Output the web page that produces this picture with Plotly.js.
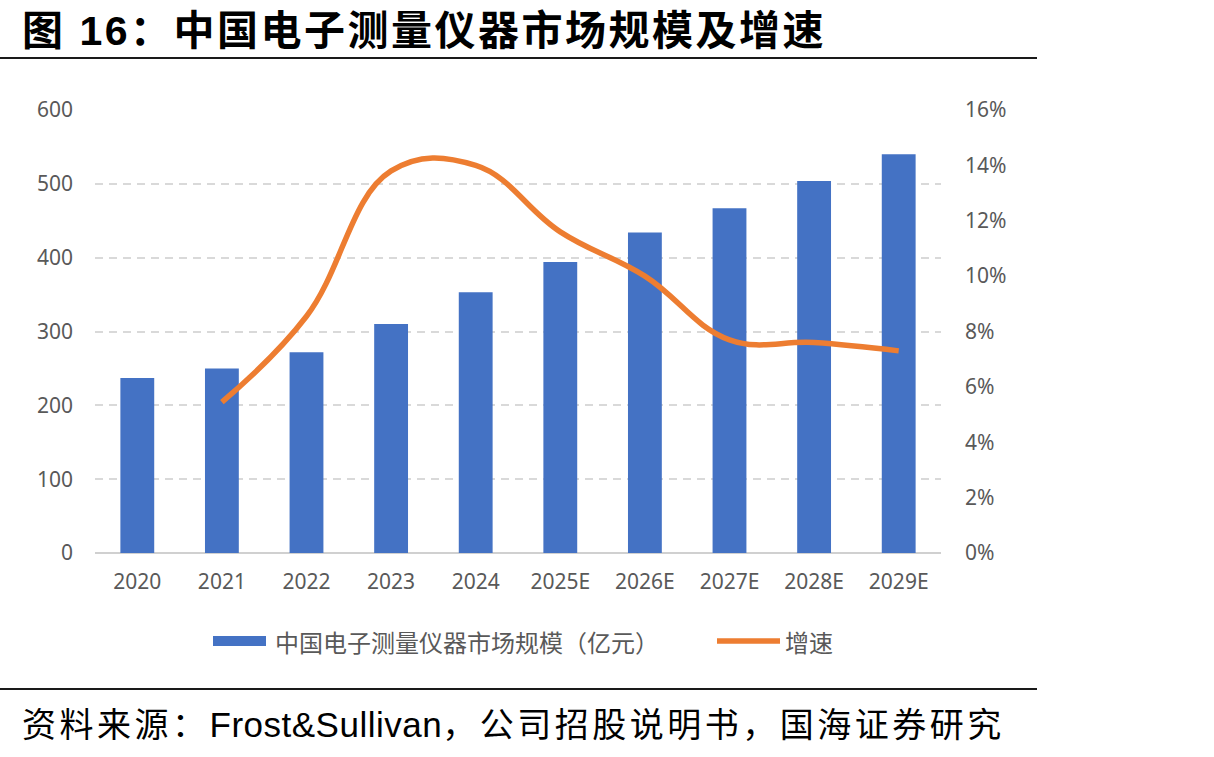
<!DOCTYPE html>
<html>
<head>
<meta charset="utf-8">
<script src="https://cdn.plot.ly/plotly-3.0.1.min.js"></script>
<style>
  html, body { margin: 0; padding: 0; background: #ffffff; }
  #wrap { position: relative; width: 1214px; height: 757px; overflow: hidden; }
  #chart { position: absolute; left: 0; top: 0; width: 1214px; height: 757px; }
  .rule { position: absolute; left: 0; width: 1037px; height: 2px; background: #1a1a1a; }
  #title { position: absolute; left: 22px; top: -3px; font-family: "Liberation Sans", "Noto Sans CJK SC", sans-serif;
           font-weight: 700; font-size: 41px; color: #000; white-space: nowrap; letter-spacing: 2.5px; }
  #source { position: absolute; left: 22px; top: 698px; font-family: "Noto Sans CJK SC", sans-serif;
            font-size: 34px; color: #000; white-space: nowrap; letter-spacing: 3.5px; }
  #source .lat { font-family: "Liberation Sans", sans-serif; font-size: 35px; letter-spacing: 0.5px; }
</style>
</head>
<body>
<div id="wrap">
  <div id="chart"></div>
  <div id="title">图 16：中国电子测量仪器市场规模及增速</div>
  <div class="rule" style="top:57px"></div>
  <div class="rule" style="top:688px"></div>
  <div id="source">资料来源：<span class="lat">Frost&amp;Sullivan</span>，公司招股说明书，国海证券研究</div>
</div>
<script>
// Market size (100 million yuan) and year-on-year growth (%)
const years = ['2020', '2021', '2022', '2023', '2024', '2025E', '2026E', '2027E', '2028E', '2029E'];
const marketSize = [237, 250, 272, 310, 353, 394, 434, 467, 504, 540];
const growthPct = [null, 5.45, 8.55, 13.8, 14.0, 11.6, 10.0, 7.7, 7.6, 7.3];

const sizeName = '中国电子测量仪器市场规模（亿元）';
const growthName = '增速';

const BLUE = '#4472C4';
const ORANGE = '#ED7D31';
const GREY_TEXT = '#595959';

const tickFont = { family: 'Noto Sans, sans-serif', size: 21, color: GREY_TEXT };
const legendFont = { family: 'Noto Sans CJK SC, sans-serif', size: 24, color: GREY_TEXT };

// plot area: x 95..941 px, y 110..553 px
const L = 95, R = 941, T = 110, B = 553;
const px = x => (x - L) / (R - L);
const py = y => (B - y) / (B - T);

const traces = [
  {
    type: 'bar', x: years, y: marketSize, name: sizeName,
    marker: { color: BLUE }, width: 0.4, yaxis: 'y', showlegend: false,
    hoverinfo: 'x+y'
  },
  {
    type: 'scatter', mode: 'lines', x: years, y: growthPct, name: growthName,
    line: { color: ORANGE, width: 5.5, shape: 'spline', smoothing: 1.15 },
    yaxis: 'y2', showlegend: false, connectgaps: false
  }
];

const layout = {
  width: 1214, height: 757,
  margin: { l: L, r: 1214 - R, t: T, b: 757 - B, pad: 0 },
  paper_bgcolor: 'rgba(0,0,0,0)', plot_bgcolor: 'rgba(0,0,0,0)',
  showlegend: false,
  xaxis: {
    type: 'category', showgrid: false, showline: false, ticks: '',
    tickfont: tickFont, ticklabelstandoff: 14, fixedrange: true
  },
  yaxis: {
    range: [0, 600], dtick: 100, showline: false, ticks: '',
    gridcolor: '#d9d9d9', gridwidth: 2, griddash: '8px,6px',
    zeroline: true, zerolinecolor: '#d0d0d0', zerolinewidth: 1.5,
    tickfont: tickFont, ticklabelstandoff: 21, fixedrange: true
  },
  yaxis2: {
    overlaying: 'y', side: 'right', range: [0, 16], dtick: 2, ticksuffix: '%',
    showgrid: false, zeroline: false, showline: false, ticks: '',
    tickfont: tickFont, ticklabelstandoff: 23, fixedrange: true
  },
  shapes: [
    { type: 'rect', xref: 'paper', yref: 'paper',
      x0: px(213), x1: px(266), y0: py(646), y1: py(636),
      fillcolor: BLUE, line: { width: 0 } },
    { type: 'line', xref: 'paper', yref: 'paper',
      x0: px(717), x1: px(780), y0: py(641), y1: py(641),
      line: { color: ORANGE, width: 5.5 } }
  ],
  annotations: [
    { xref: 'paper', yref: 'paper', x: px(273), y: py(641), xanchor: 'left', yanchor: 'middle',
      text: sizeName, showarrow: false, font: legendFont },
    { xref: 'paper', yref: 'paper', x: px(783), y: py(641), xanchor: 'left', yanchor: 'middle',
      text: growthName, showarrow: false, font: legendFont }
  ]
};

Plotly.newPlot('chart', traces, layout, { staticPlot: true, displayModeBar: false });
</script>
</body>
</html>
